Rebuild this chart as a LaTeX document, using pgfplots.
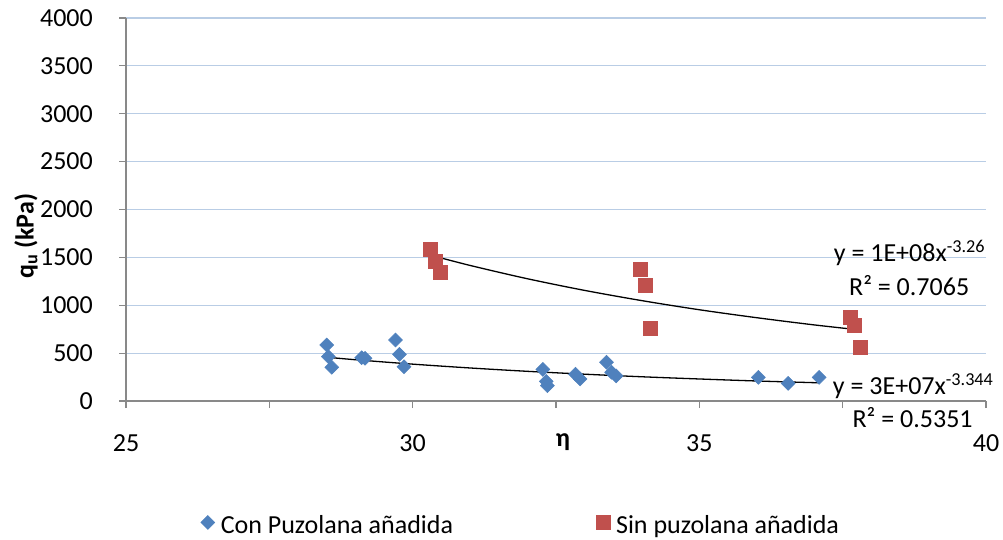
\documentclass[border=0pt]{standalone}
\usepackage{fontspec}
\setmainfont{Carlito}
\usepackage{pgfplots}
\pgfplotsset{compat=1.18}
\definecolor{cblue}{RGB}{79,129,189}
\definecolor{cred}{RGB}{192,80,77}
\definecolor{cgrid}{RGB}{185,205,229}
\definecolor{caxis}{RGB}{137,137,137}
\newcommand{\chartfont}{\fontsize{26bp}{31bp}\selectfont}
\begin{document}
\begin{tikzpicture}[font=\chartfont]
\path[use as bounding box] (-126bp,-139bp) rectangle (877bp,401bp);
\begin{axis}[
  scale only axis, width=860bp, height=383bp,
  at={(0,0)}, anchor=south west,
  xmin=25, xmax=40, ymin=0, ymax=4000,
  axis x line*=bottom, axis y line*=left,
  axis line style={caxis, line width=1.2bp, -},
  xtick={25,30,35,40}, minor xtick={27.5,32.5,37.5},
  ytick={0,500,1000,1500,2000,2500,3000,3500,4000},
  xticklabels={25,30,35,40},
  yticklabels={0,500,1000,1500,2000,2500,3000,3500,4000},
  tick style={caxis, line width=1.2bp},
  major tick length=7bp, minor tick length=7bp,
  tick align=outside,
  ymajorgrids, grid style={cgrid, line width=1.1bp},
  tick label style={font=\chartfont},
  xticklabel style={font=\chartfont, anchor=base, yshift=-43bp},
  yticklabel style={font=\chartfont, anchor=east, inner xsep=0pt, xshift=-26bp},
  xlabel={\textbf{η}},
  xlabel style={font=\chartfont, at={(axis description cs:0.508,-0.1175)}, anchor=base},
  ylabel={\textbf{q\textsubscript{u} (kPa)}},
  ylabel style={font=\chartfont, at={(axis description cs:-0.1163,0.43)}, anchor=center},
  clip=false,
  legend columns=2,
  legend style={draw=none, fill=none, font=\chartfont,
    at={(axis description cs:0.4581,-0.325)}, anchor=center,
    nodes={inner xsep=0bp, inner ysep=2bp},
    /tikz/every odd column/.append style={column sep=6bp},
    /tikz/every even column/.append style={column sep=143bp}},
  legend image code/.code={\draw[#1] plot coordinates {(0bp,0.3em)};},
]
\addplot[only marks, mark=square*, mark size=4.9bp,
  mark options={rotate=45, fill=cblue, draw=cblue, line width=0.6bp}]
coordinates {
(28.50,585) (28.53,463) (28.59,352) (29.11,452) (29.17,446)
(29.70,637) (29.77,487) (29.85,358)
(32.27,330) (32.33,205) (32.35,160)
(32.84,280) (32.92,230)
(33.38,405) (33.47,300) (33.55,262)
(36.03,247) (36.55,184) (37.09,247)
};
\addlegendentry{Con Puzolana añadida}
\addplot[only marks, mark=square*, mark size=7bp,
  mark options={fill=cred, draw=cred, line width=0.6bp}]
coordinates {
(30.30,1587) (30.39,1455) (30.49,1340)
(33.97,1378) (34.05,1211) (34.15,759)
(37.63,874) (37.70,794) (37.80,561)
};
\addlegendentry{Sin puzolana añadida}
% trendlines (power fits)
\addplot[black, line width=1.3bp, no marks, smooth, forget plot] coordinates {
(30.3,1525) (31,1416) (32,1277) (33,1155) (34,1048) (35,953) (36,870) (37,795) (37.8,742)
};
\addplot[black, line width=1.3bp, no marks, smooth, forget plot] coordinates {
(28.49,458) (29,431) (30,385) (31,345) (32,310) (33,280) (34,253) (35,230) (36,209) (37.09,190)
};
\node[font=\chartfont, anchor=base, inner sep=0pt] at (axis cs:38.666,1452) {y = 1E+08x\textsuperscript{-3.26}};
\node[font=\chartfont, anchor=base, inner sep=0pt] at (axis cs:38.66,1107) {R² = 0.7065};
\node[font=\chartfont, anchor=base, inner sep=0pt] at (axis cs:38.73,63) {y = 3E+07x\textsuperscript{-3.344}};
\node[font=\chartfont, anchor=base, inner sep=0pt] at (axis cs:38.72,-272) {R² = 0.5351};
\end{axis}
\end{tikzpicture}
\end{document}
